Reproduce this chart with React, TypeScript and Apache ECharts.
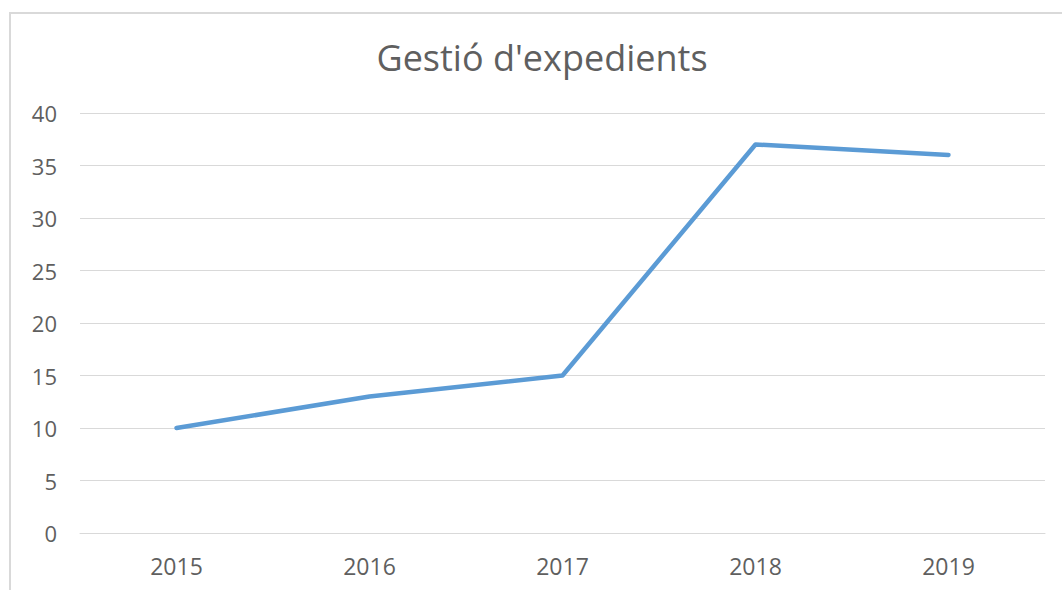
import React, { useEffect, useRef } from "react";
import * as echarts from "echarts";

const categories = ["2015", "2016", "2017", "2018", "2019"];
const values = [10, 13, 15, 37, 36];
const titleText = "Gestió d'expedients";

export default function App() {
  const ref = useRef<HTMLDivElement>(null);
  useEffect(() => {
    document.body.style.margin = "0";
    const chart = echarts.init(ref.current!, undefined, { renderer: "svg" });
    chart.setOption({
      animation: false,
      backgroundColor: "#ffffff",
      graphic: [
        {
          type: "rect",
          shape: { x: 10, y: 13, width: 1070, height: 620 },
          style: { fill: "none", stroke: "#d9d9d9", lineWidth: 2 },
          silent: true,
        },
      ],
      title: {
        text: titleText,
        left: 537,
        top: 34,
        textAlign: "center",
        textStyle: {
          fontFamily: "Open Sans",
          fontSize: 36,
          fontWeight: "normal",
          color: "#5f5f5f",
        },
      },
      grid: { left: 80, right: 17, top: 113, bottom: 57, containLabel: false },
      xAxis: {
        type: "category",
        data: categories,
        boundaryGap: true,
        axisLine: { show: true, lineStyle: { color: "#d9d9d9", width: 1 } },
        axisTick: { show: false },
        axisLabel: {
          color: "#5f5f5f",
          fontFamily: "Open Sans",
          fontSize: 23,
          margin: 21,
        },
      },
      yAxis: {
        type: "value",
        min: 0,
        max: 40,
        interval: 5,
        axisLine: { show: false },
        axisTick: { show: false },
        splitLine: { lineStyle: { color: "#d9d9d9", width: 1 } },
        axisLabel: {
          color: "#5f5f5f",
          fontFamily: "Open Sans",
          fontSize: 22,
          margin: 23,
        },
      },
      series: [
        {
          type: "line",
          data: values,
          showSymbol: false,
          symbol: "none",
          lineStyle: { color: "#5b9bd5", width: 4.5, cap: "round", join: "round" },
          itemStyle: { color: "#5b9bd5" },
        },
      ],
    });
    return () => chart.dispose();
  }, []);
  return <div ref={ref} style={{ width: 1062, height: 590 }} />;
}
